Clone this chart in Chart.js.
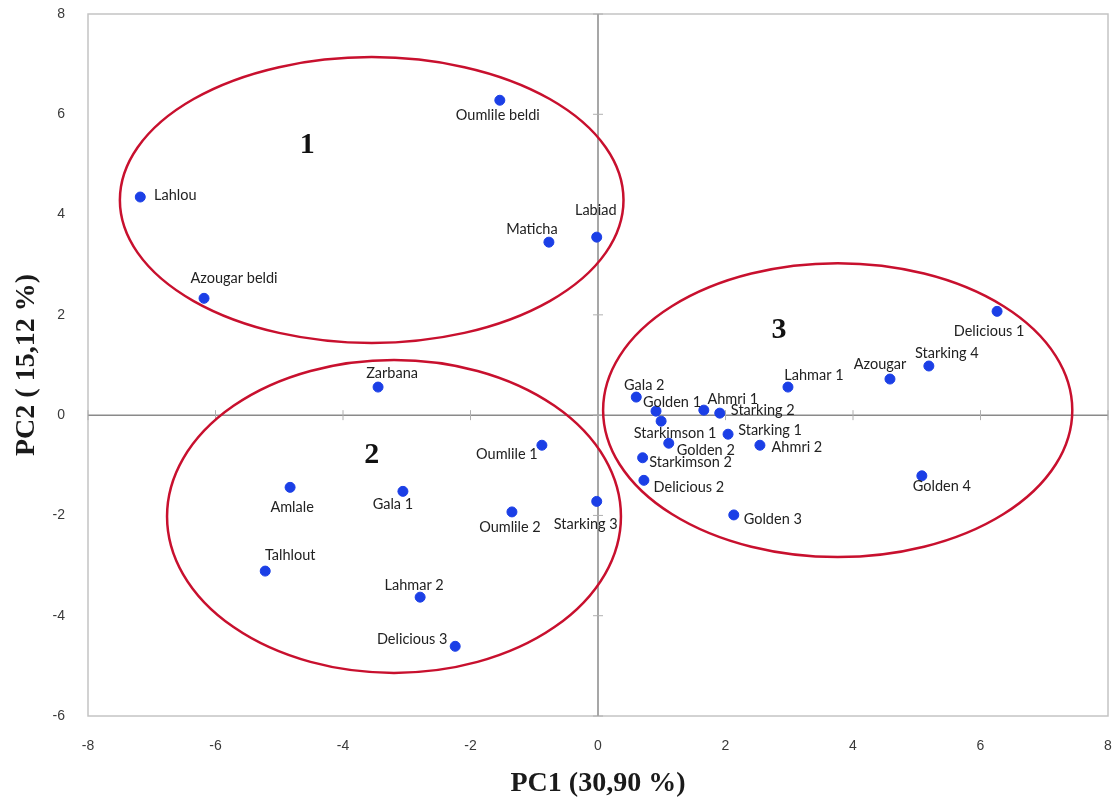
<!DOCTYPE html>
<html>
<head>
<meta charset="utf-8">
<script src="https://cdn.jsdelivr.net/npm/chart.js@4"></script>
<style>
  body { margin: 0; background: #fff; }
  #wrap { width: 1115px; height: 807px; position: relative; }
</style>
</head>
<body>
<div id="wrap"><canvas id="pca"></canvas></div>
<script>
// Varietes (noms) et coordonnees sur PC1 / PC2
const names = [
  "Oumlile beldi", "Lahlou", "Maticha", "Labiad", "Azougar beldi",
  "Zarbana", "Oumlile 1", "Amlale", "Gala 1", "Oumlile 2", "Starking 3",
  "Talhlout", "Lahmar 2", "Delicious 3",
  "Delicious 1", "Starking 4", "Azougar", "Lahmar 1", "Gala 2", "Golden 1",
  "Ahmri 1", "Starking 2", "Starkimson 1", "Starking 1", "Golden 2",
  "Ahmri 2", "Starkimson 2", "Delicious 2", "Golden 4", "Golden 3"
];
const pc1 = [
  -1.54, -7.18, -0.77, -0.02, -6.18,
  -3.45, -0.88, -4.83, -3.06, -1.35, -0.02,
  -5.22, -2.79, -2.24,
  6.26, 5.19, 4.58, 2.98, 0.60, 0.91,
  1.66, 1.91, 0.99, 2.04, 1.11,
  2.54, 0.70, 0.72, 5.08, 2.13
];
const pc2 = [
  6.28, 4.35, 3.45, 3.55, 2.33,
  0.56, -0.60, -1.44, -1.52, -1.93, -1.72,
  -3.11, -3.63, -4.61,
  2.07, 0.98, 0.72, 0.56, 0.36, 0.08,
  0.10, 0.04, -0.12, -0.38, -0.56,
  -0.60, -0.85, -1.30, -1.21, -1.99
];

// Groupes (ellipses) en unites des axes
const groupNames = ["1", "2", "3"];
const groupCx = [-3.55, -3.20, 3.76];
const groupCy = [4.29, -2.02, 0.10];
const groupRx = [3.95, 3.56, 3.68];
const groupRy = [2.85, 3.12, 2.93];
const groupLabelX = [-4.56, -3.55, 2.84];
const groupLabelY = [5.38, -0.80, 1.70];

// Decalage des etiquettes (pixels, centre du texte par rapport au point)
const labelOffsets = [
  [-2, 15], [35, -2], [-17, -13], [-1, -27], [30, -20],
  [14, -14], [-35, 9], [2, 20], [-10, 13], [-2, 15], [-11, 23],
  [25, -16], [-6, -12], [-43, -7],
  [-8, 20], [18, -13], [-10, -15], [26, -12], [8, -12], [16, -9],
  [29, -11], [43, -3], [14, 12], [42, -4], [37, 7],
  [37, 2], [48, 5], [45, 7], [20, 11], [39, 4]
];

const points = names.map((n, i) => ({ x: pc1[i], y: pc2[i] }));

// Plugin: cadre, axes du zero, ellipses, etiquettes
const pcaDecor = {
  id: "pcaDecor",
  beforeDatasetsDraw(chart) {
    const c = chart.ctx, a = chart.chartArea;
    const xs = chart.scales.x, ys = chart.scales.y;
    c.save();
    c.strokeStyle = "#c4c4c4";
    c.lineWidth = 1.5;
    c.strokeRect(a.left, a.top, a.right - a.left, a.bottom - a.top);
    const x0 = xs.getPixelForValue(0), y0 = ys.getPixelForValue(0);
    c.strokeStyle = "#8a8a8a";
    c.lineWidth = 1.5;
    c.beginPath();
    c.moveTo(x0, a.top); c.lineTo(x0, a.bottom);
    c.moveTo(a.left, y0); c.lineTo(a.right, y0);
    c.stroke();
    // petites graduations sur les axes du zero
    c.strokeStyle = "#b0b0b0";
    c.lineWidth = 1;
    c.beginPath();
    ys.ticks.forEach(t => {
      const py = ys.getPixelForValue(t.value);
      c.moveTo(x0 - 5, py); c.lineTo(x0 + 5, py);
    });
    xs.ticks.forEach(t => {
      const px = xs.getPixelForValue(t.value);
      c.moveTo(px, y0 - 5); c.lineTo(px, y0 + 5);
    });
    c.stroke();
    c.restore();
  },
  afterDatasetsDraw(chart) {
    const c = chart.ctx;
    const xs = chart.scales.x, ys = chart.scales.y;
    c.save();
    // ellipses
    c.strokeStyle = "#c8102e";
    c.lineWidth = 2.5;
    for (let g = 0; g < groupNames.length; g++) {
      const cx = xs.getPixelForValue(groupCx[g]);
      const cy = ys.getPixelForValue(groupCy[g]);
      const rx = Math.abs(xs.getPixelForValue(groupCx[g] + groupRx[g]) - cx);
      const ry = Math.abs(ys.getPixelForValue(groupCy[g] + groupRy[g]) - cy);
      c.beginPath();
      c.ellipse(cx, cy, rx, ry, 0, 0, Math.PI * 2);
      c.stroke();
    }
    // numeros des groupes
    c.fillStyle = "#111";
    c.font = "bold 30px 'Liberation Serif'";
    c.textAlign = "center";
    c.textBaseline = "middle";
    for (let g = 0; g < groupNames.length; g++) {
      c.fillText(groupNames[g],
        xs.getPixelForValue(groupLabelX[g]),
        ys.getPixelForValue(groupLabelY[g]));
    }
    // etiquettes des varietes
    c.fillStyle = "#222";
    c.font = "14.5px Lato";
    for (let i = 0; i < names.length; i++) {
      const px = xs.getPixelForValue(pc1[i]);
      const py = ys.getPixelForValue(pc2[i]);
      c.fillText(names[i], px + labelOffsets[i][0], py + labelOffsets[i][1]);
    }
    c.restore();
  }
};

// pas de marge automatique pour les etiquettes des extremites
const noPad = (s) => {
  s.paddingTop = 0; s.paddingBottom = 0;
  s.paddingLeft = 0; s.paddingRight = 0;
};

const ctx = document.getElementById("pca").getContext("2d");

new Chart(ctx, {
  type: "scatter",
  data: {
    datasets: [{
      label: "Varietes",
      data: points,
      backgroundColor: "#1b3fe6",
      borderColor: "#1b3fe6",
      pointRadius: 5,
      pointHoverRadius: 5,
    }],
  },
  options: {
    responsive: true,
    maintainAspectRatio: false,
    animation: false,
    devicePixelRatio: 1,
    layout: { padding: { top: 14, right: 7, left: 0, bottom: 0 } },
    plugins: {
      legend: { display: false },
      tooltip: { enabled: false },
    },
    scales: {
      x: {
        type: "linear",
        min: -8, max: 8,
        afterFit: (s) => { s.height = 91; noPad(s); },
        grid: { display: false, drawTicks: false },
        border: { display: false },
        ticks: {
          stepSize: 2,
          padding: 22,
          color: "#3a3a3a",
          font: { family: "'Liberation Sans'", size: 14 },
        },
        title: {
          display: true,
          text: "PC1 (30,90 %)",
          color: "#1a1a1a",
          font: { family: "'Liberation Serif'", size: 28, weight: "bold" },
          padding: { top: 0, bottom: 6 },
        },
      },
      y: {
        type: "linear",
        min: -6, max: 8,
        afterFit: (s) => { s.width = 88; noPad(s); },
        grid: { display: false, drawTicks: false },
        border: { display: false },
        ticks: {
          stepSize: 2,
          padding: 23,
          color: "#3a3a3a",
          font: { family: "'Liberation Sans'", size: 14 },
        },
        title: {
          display: true,
          text: "PC2 ( 15,12 %)",
          color: "#1a1a1a",
          font: { family: "'Liberation Serif'", size: 28, weight: "bold" },
          padding: { top: 10, bottom: 0 },
        },
      },
    },
  },
  plugins: [pcaDecor],
});
</script>
</body>
</html>
